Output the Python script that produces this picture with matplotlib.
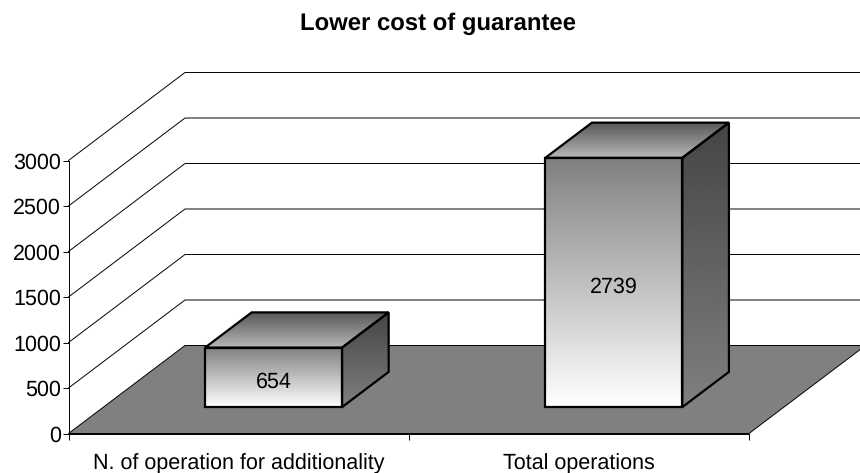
import matplotlib
matplotlib.use('Agg')
import matplotlib.pyplot as plt
import numpy as np
from matplotlib.patches import Polygon

plt.rcParams['font.family'] = ['Liberation Sans', 'DejaVu Sans']
plt.rcParams['text.hinting'] = 'no_hinting'

TITLE = 'Lower cost of guarantee'
CATEGORIES = ['N. of operation for additionality', 'Total operations']
VALUES = [654, 2739]
Y_TICKS = [0, 500, 1000, 1500, 2000, 2500, 3000]

W, H = 860, 473
# front plane of the box, in pixels
LEFT, RIGHT, BASE, TOP = 68.5, 749.0, 433.5, 160.5
PX_X = (RIGHT - LEFT) / len(CATEGORIES)
PX_Y = (BASE - TOP) / Y_TICKS[-1]

# oblique depth direction, in pixels
DEPTH_X, DEPTH_Y = 116.5, 88.0
BAR_WIDTH = 137 / PX_X
BAR_NEAR = 0.30   # front of the bars, as a share of the depth
BAR_FAR = 0.70    # back of the bars
FONT = 15.5


def proj(x, y, d):
    """Category/value/depth to data coordinates with an oblique offset."""
    return x + d * DEPTH_X / PX_X, y + d * DEPTH_Y / PX_Y


def shaded(ax, corners, start, stop, zorder):
    """Polygon with a vertical grey ramp and a black outline."""
    pts = np.array(corners)
    ramp = np.linspace(start, stop, 128).reshape(-1, 1)
    img = ax.imshow(ramp, cmap='gray', vmin=0, vmax=1, aspect='auto', origin='upper',
                    extent=(pts[:, 0].min(), pts[:, 0].max(), pts[:, 1].min(), pts[:, 1].max()),
                    zorder=zorder)
    outline = Polygon(pts, closed=True, fc='none', ec='black', lw=1.6, joinstyle='miter',
                      zorder=zorder + 0.1, clip_on=False)
    ax.add_patch(outline)
    img.set_clip_path(outline)
    # the images reach past the axes box
    img.set_clip_box(ax.figure.bbox)


def draw_bar(ax, x, value, zorder):
    x0, x1 = x - BAR_WIDTH / 2, x + BAR_WIDTH / 2
    near, far = BAR_NEAR, BAR_FAR
    front = [proj(x0, 0, near), proj(x1, 0, near), proj(x1, value, near), proj(x0, value, near)]
    top = [proj(x0, value, near), proj(x1, value, near), proj(x1, value, far), proj(x0, value, far)]
    side = [proj(x1, 0, near), proj(x1, 0, far), proj(x1, value, far), proj(x1, value, near)]
    shaded(ax, side, 0.27, 0.50, zorder)
    shaded(ax, top, 0.34, 0.72, zorder)
    shaded(ax, front, 0.50, 1.0, zorder)
    ax.annotate(str(value), proj(x, value / 2, near), xytext=(0, -1.5), textcoords='offset points',
                ha='center', va='center_baseline', fontsize=FONT, zorder=zorder + 1)


def main():
    fig = plt.figure(figsize=(W / 100, H / 100), dpi=100, facecolor='white')
    ax = fig.add_axes([LEFT / W, 1 - BASE / H, (RIGHT - LEFT) / W, (BASE - TOP) / H])
    ax.set_facecolor('none')
    n = len(CATEGORIES)

    # floor
    floor = [proj(0, 0, 0), proj(n, 0, 0), proj(n, 0, 1), proj(0, 0, 1)]
    ax.add_patch(Polygon(floor, closed=True, fc='#808080', ec='black', lw=0.7,
                         zorder=1, clip_on=False))

    # gridlines run back along the side wall, then across the back wall
    for tick in Y_TICKS[1:]:
        xs, ys = zip(proj(0, tick, 0), proj(0, tick, 1), proj(n, tick, 1))
        ax.plot(xs, ys, color='black', lw=0.7, zorder=0.5, clip_on=False,
                solid_joinstyle='miter')

    for i, value in enumerate(VALUES):
        draw_bar(ax, i + 0.5, value, 3 + i)

    ax.set_xlim(0, n)
    ax.set_ylim(Y_TICKS[0], Y_TICKS[-1])
    ax.set_yticks(Y_TICKS)
    ax.set_xticks(range(n + 1))
    ax.set_xticklabels([])
    ax.set_xticks([i + 0.5 for i in range(n)], CATEGORIES, minor=True)
    ax.tick_params(axis='x', which='minor', length=0, pad=14.5, labelsize=FONT)
    ax.tick_params(axis='x', which='major', length=4.5, width=0.7)
    ax.tick_params(axis='y', length=4, width=0.7, pad=1.5, labelsize=FONT)
    for label in ax.get_yticklabels():
        label.set_verticalalignment('center_baseline')
    for name in ('top', 'right'):
        ax.spines[name].set_visible(False)
    for name in ('left', 'bottom'):
        ax.spines[name].set_linewidth(0.7)
        ax.spines[name].set_zorder(2)

    fig.text(438 / W, 1 - 29.5 / H, TITLE, ha='center', va='baseline', fontsize=17.2, fontweight='bold')
    fig.savefig('out.png', dpi=100)


if __name__ == '__main__':
    main()
